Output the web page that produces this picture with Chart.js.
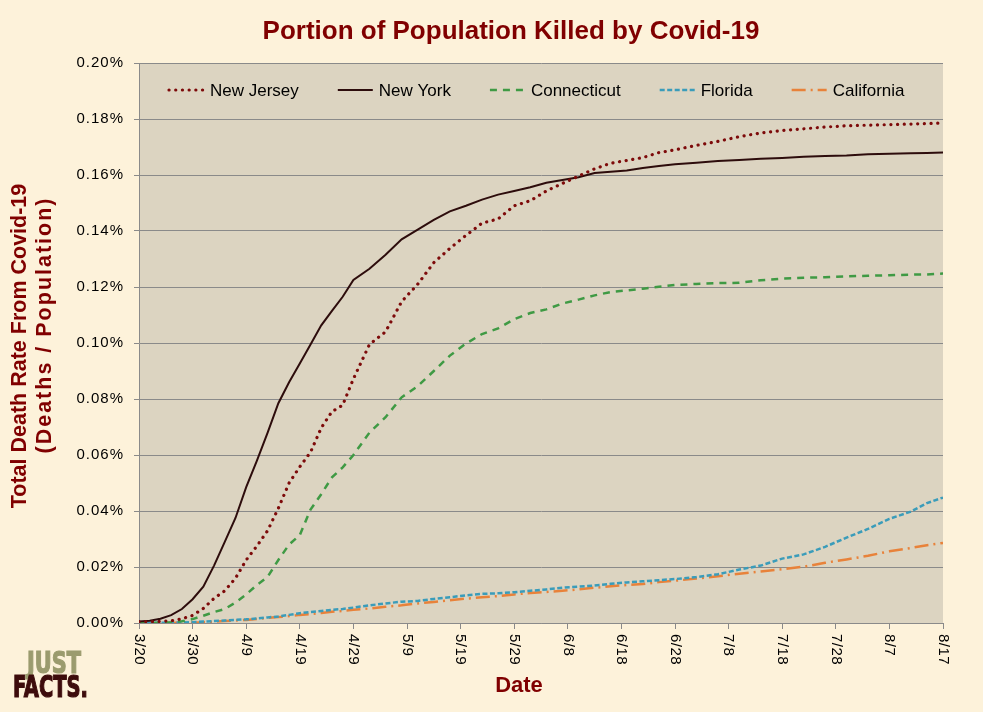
<!DOCTYPE html>
<html>
<head>
<meta charset="utf-8">
<title>Portion of Population Killed by Covid-19</title>
<script src="https://cdn.jsdelivr.net/npm/chart.js@4.4.0/dist/chart.umd.min.js"></script>
<style>
    html, body { margin: 0; padding: 0; background: #fdf2da; }
    #wrap { width: 983px; height: 712px; }
</style>
</head>
<body>
<div id="wrap"><canvas id="chart" width="983" height="712"></canvas></div>
<script>
// x tick labels, one every 10 days starting 3/20
const dateLabels = ['3/20', '3/30', '4/9', '4/19', '4/29', '5/9', '5/19', '5/29',
    '6/8', '6/18', '6/28', '7/8', '7/18', '7/28', '8/7', '8/17'];

// days since 3/20
const days = [0, 2, 4, 6, 8, 10, 12, 14, 16, 18, 20, 22, 24, 26, 28, 30, 32, 34, 36, 38, 40,
    43, 46, 49, 52, 55, 58, 61, 64, 67, 70, 73, 76, 79, 82, 85, 88, 91, 94, 97, 100,
    104, 108, 112, 116, 120, 124, 128, 132, 136, 140, 144, 147, 150];

// death rate, in percent of population
const newJersey = [0.0005, 0.0005, 0.0006, 0.0008, 0.0015, 0.0027, 0.0052, 0.0088, 0.0115, 0.016, 0.0225,
    0.0275, 0.033, 0.041, 0.05, 0.0558, 0.061, 0.0697, 0.0755, 0.0778, 0.0872,
    0.0995, 0.104, 0.1148, 0.121, 0.1287, 0.1338, 0.1384, 0.1428, 0.1443, 0.149,
    0.1508, 0.1543, 0.157, 0.1596, 0.1622, 0.1642, 0.1652, 0.1662, 0.168, 0.169,
    0.1706, 0.172, 0.1737, 0.175, 0.1759, 0.1765, 0.1771, 0.1776, 0.1778, 0.178, 0.1782,
    0.1784, 0.1786];
const newYork = [0.0005, 0.0008, 0.0015, 0.0028, 0.005, 0.0085, 0.013, 0.0205, 0.029, 0.0375, 0.0485,
    0.058, 0.068, 0.0785, 0.086, 0.0927, 0.0995, 0.1063, 0.1115, 0.1165, 0.1225,
    0.1265, 0.1315, 0.137, 0.1405, 0.144, 0.147, 0.149, 0.1512, 0.153, 0.1543,
    0.1556, 0.1572, 0.1582, 0.1592, 0.1607, 0.1612, 0.1616, 0.1625, 0.1632, 0.1638,
    0.1644, 0.165, 0.1654, 0.1658, 0.1661, 0.1665, 0.1668, 0.167, 0.1674, 0.1676, 0.1678,
    0.1679, 0.168];
const connecticut = [0, 0, 0.0001, 0.0003, 0.0006, 0.0014, 0.0026, 0.0039, 0.005, 0.0073, 0.0102,
    0.0136, 0.0165, 0.0225, 0.028, 0.0314, 0.0405, 0.046, 0.052, 0.0556, 0.06,
    0.068, 0.0735, 0.0806, 0.0846, 0.09, 0.0955, 0.0998, 0.1032, 0.1052, 0.1085,
    0.1107, 0.112, 0.1141, 0.1155, 0.117, 0.1182, 0.1188, 0.1194, 0.1201, 0.1207,
    0.1211, 0.1214, 0.1215, 0.1224, 0.123, 0.1233, 0.1235, 0.1238, 0.124, 0.1242, 0.1244,
    0.1245, 0.1248];
const florida = [0.0001, 0.0001, 0.0001, 0.0001, 0.0002, 0.0003, 0.0005, 0.0007, 0.0009, 0.0011, 0.0013,
    0.0016, 0.002, 0.0023, 0.0029, 0.0035, 0.0039, 0.0043, 0.0047, 0.005, 0.0055,
    0.0063, 0.007, 0.0076, 0.0079, 0.0086, 0.0092, 0.0099, 0.0104, 0.0106, 0.011,
    0.0115, 0.012, 0.0126, 0.013, 0.0134, 0.014, 0.0145, 0.0149, 0.0153, 0.0157,
    0.0164, 0.0174, 0.0191, 0.0205, 0.023, 0.0245, 0.0272, 0.0305, 0.0336, 0.0372, 0.0398,
    0.0428, 0.0448];
const california = [0, 0, 0, 0.0001, 0.0001, 0.0002, 0.0003, 0.0005, 0.0007, 0.0009, 0.0011,
    0.0014, 0.0018, 0.0021, 0.0025, 0.0029, 0.0032, 0.0036, 0.004, 0.0043, 0.0047,
    0.0052, 0.0058, 0.0063, 0.007, 0.0075, 0.0081, 0.0087, 0.0092, 0.0096, 0.0102,
    0.0107, 0.0111, 0.0115, 0.012, 0.0126, 0.0131, 0.0136, 0.0139, 0.0146, 0.0151,
    0.0159, 0.0167, 0.0176, 0.0184, 0.0192, 0.0201, 0.0215, 0.0227, 0.024, 0.0256, 0.0268,
    0.0278, 0.0286];

const FONT = "'Liberation Sans', Arial, sans-serif";
const MAROON = '#800000';

function pairs(values) {
    return days.map((d, i) => ({ x: d, y: values[i] }));
}

function line(label, values, color, dash, width, cap) {
    return {
        label: label,
        data: pairs(values),
        borderColor: color,
        backgroundColor: color,
        borderDash: dash,
        borderWidth: width,
        borderCapStyle: cap || 'butt',
        pointRadius: 0,
        tension: 0,
        fill: false
    };
}

// background, titles, legend, rotated date labels and logo
const decorPlugin = {
    id: 'decor',
    beforeDraw(chart) {
        const { ctx, chartArea: a, width, height } = chart;
        ctx.save();
        ctx.fillStyle = '#fdf2da';
        ctx.fillRect(0, 0, width, height);
        ctx.fillStyle = '#dcd4c1';
        ctx.fillRect(a.left, a.top, a.right - a.left, a.bottom - a.top);
        ctx.restore();
        ctx.letterSpacing = '1px';
    },
    afterDraw(chart) {
        const { ctx, chartArea: a } = chart;
        const xs = chart.scales.x;
        ctx.save();
        ctx.letterSpacing = '0px';

        // main title
        ctx.fillStyle = MAROON;
        ctx.font = 'bold 26px ' + FONT;
        ctx.textAlign = 'center';
        ctx.textBaseline = 'middle';
        ctx.fillText('Portion of Population Killed by Covid-19', 511, 32);

        // x axis title
        ctx.font = 'bold 22px ' + FONT;
        ctx.fillText('Date', 519, 686);

        // y axis title, two lines
        ctx.save();
        ctx.translate(20, 346);
        ctx.rotate(-Math.PI / 2);
        ctx.font = 'bold 21.5px ' + FONT;
        ctx.fillText('Total Death Rate From Covid-19', 0, 0);
        ctx.restore();
        ctx.save();
        ctx.translate(45, 325);
        ctx.rotate(-Math.PI / 2);
        ctx.font = 'bold 21.5px ' + FONT;
        ctx.letterSpacing = '2px';
        ctx.fillText('(Deaths / Population)', 0, 0);
        ctx.restore();

        // date labels, rotated clockwise
        ctx.fillStyle = '#000';
        ctx.font = '15px ' + FONT;
        ctx.letterSpacing = '0.5px';
        ctx.textAlign = 'left';
        xs.ticks.forEach((t, i) => {
            const px = xs.getPixelForValue(t.value);
            ctx.save();
            ctx.translate(px, a.bottom + 11);
            ctx.rotate(Math.PI / 2);
            ctx.fillText(dateLabels[i], 0, 0);
            ctx.restore();
        });

        // legend inside the plot
        ctx.letterSpacing = '0px';
        ctx.font = '17px ' + FONT;
        ctx.textBaseline = 'middle';
        let x = 168;
        const y = a.top + 27;
        chart.data.datasets.forEach(ds => {
            ctx.save();
            ctx.strokeStyle = ds.borderColor;
            ctx.lineWidth = ds.borderWidth;
            ctx.lineCap = ds.borderCapStyle;
            ctx.setLineDash(ds.borderDash);
            ctx.beginPath();
            ctx.moveTo(x + 1, y);
            ctx.lineTo(x + 36, y);
            ctx.stroke();
            ctx.restore();
            ctx.fillStyle = '#000';
            ctx.fillText(ds.label, x + 42, y + 1);
            x += 42 + ctx.measureText(ds.label).width + 38;
        });

        // logo
        drawWord(ctx, 'JUST', 27, 673, 54, '#9b9b6e');
        drawWord(ctx, 'FACTS.', 13, 697, 75, '#3d0c0c');
        ctx.restore();
    }
};

function drawWord(ctx, text, x, y, w, color) {
    ctx.save();
    ctx.font = "bold 30px 'DejaVu Sans Condensed', 'DejaVu Sans', sans-serif";
    ctx.textAlign = 'left';
    ctx.textBaseline = 'alphabetic';
    ctx.letterSpacing = '0px';
    const m = ctx.measureText(text).width;
    ctx.translate(x, y);
    ctx.scale(w / m, 1);
    ctx.fillStyle = color;
    ctx.strokeStyle = color;
    ctx.lineWidth = 1.2;
    ctx.lineJoin = 'miter';
    ctx.fillText(text, 0, 0);
    ctx.strokeText(text, 0, 0);
    ctx.restore();
}

const ctx = document.getElementById('chart').getContext('2d');
const chart = new Chart(ctx, {
    type: 'line',
    data: {
        datasets: [
            line('New Jersey', newJersey, '#7d0a0a', [0.1, 6.6], 3.2, 'round'),
            line('New York', newYork, '#2d0c0c', [], 2),
            line('Connecticut', connecticut, '#3f9a44', [7, 6], 2.5),
            line('Florida', florida, '#3a9cba', [5, 2.5], 2.5),
            line('California', california, '#e8823a', [14, 5, 2, 5], 2.5)
        ]
    },
    options: {
        responsive: false,
        animation: false,
        layout: { padding: { top: 63, right: 40, bottom: 0, left: 0 } },
        plugins: {
            legend: { display: false },
            title: { display: false },
            tooltip: { enabled: false }
        },
        scales: {
            x: {
                type: 'linear',
                min: 0,
                max: 150,
                ticks: { stepSize: 10, display: false },
                grid: { drawOnChartArea: false, drawTicks: true, tickLength: 6, color: '#8a8a8a' },
                border: { color: '#8a8a8a' },
                afterFit(scale) { scale.height = 89; }
            },
            y: {
                min: 0,
                max: 0.2,
                ticks: {
                    stepSize: 0.02,
                    padding: 10,
                    color: '#000',
                    font: { family: FONT, size: 15 },
                    callback: v => v.toFixed(2) + '%'
                },
                grid: { color: '#8a8a8a', tickLength: 5 },
                border: { color: '#8a8a8a' },
                afterFit(scale) { scale.width = 139; }
            }
        }
    },
    plugins: [decorPlugin]
});
</script>
</body>
</html>
